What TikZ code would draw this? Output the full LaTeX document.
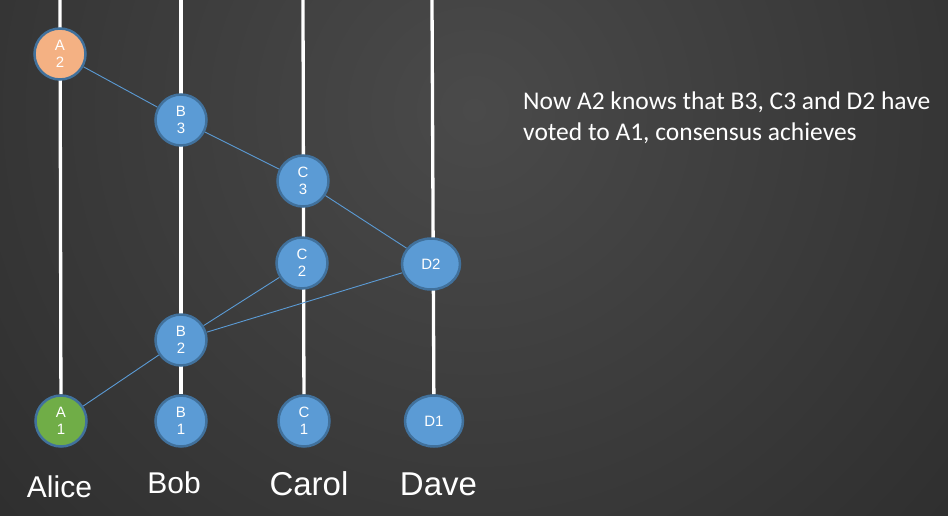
\documentclass[tikz,border=0pt]{standalone}
\usepackage{fontspec}
\setmainfont{Liberation Sans}
\newfontfamily\notefont{Carlito}
\usetikzlibrary{shapes.geometric}

\definecolor{voteblue}{HTML}{5B9BD5}
\definecolor{voterim}{HTML}{41719C}
\definecolor{voteorange}{HTML}{F4B183}
\definecolor{votegreen}{HTML}{70AD47}
\definecolor{bglight}{HTML}{4A4A4A}
\definecolor{bgdark}{HTML}{181818}

\pgfdeclarelayer{bg}
\pgfdeclarelayer{lines}
\pgfsetlayers{bg,lines,main}

\begin{document}
\begin{tikzpicture}[x=1pt,y=-1pt,
	vote/.style={circle,draw=voterim,line width=2.5pt,fill=voteblue,text=white,
		minimum size=51pt,inner sep=0pt,align=center,font=\fontsize{15}{17}\selectfont},
	dvote/.style={vote,ellipse,minimum width=58pt,minimum height=51pt},
	life/.style={white,line width=3.3pt},
	msg/.style={voteblue,line width=0.9pt},
	who/.style={anchor=base,text=white,font=\fontsize{30}{36}\selectfont}]
	
	\useasboundingbox (0,0) rectangle (948,515);
	\begin{pgfonlayer}{bg}
		\clip (0,0) rectangle (948,515);
		\shade[inner color=bglight,outer color=bgdark] (474,110) circle (1150);
	\end{pgfonlayer}
	
	% votes
	\node[vote,fill=voteorange] (A2) at (60,54)  {A\\2};
	\node[vote]                 (B3) at (181,120) {B\\3};
	\node[vote]                 (C3) at (303,181) {C\\3};
	\node[vote]                 (C2) at (302,263) {C\\2};
	\node[dvote]                (D2) at (431,264) {D2};
	\node[vote]                 (B2) at (181,340) {B\\2};
	
	\node[vote,fill=votegreen]  (A1) at (61,421)  {A\\1};
	\node[vote]                 (B1) at (181,421) {B\\1};
	\node[vote]                 (C1) at (304,421) {C\\1};
	\node[dvote]                (D1) at (434,421) {D1};
	
	\coordinate (topA) at (60,0);
	\coordinate (topB) at (181,0);
	\coordinate (topC) at (303,0);
	\coordinate (topD) at (432,0);
	
	\node[who] (alice) at (59.5,497) {Alice};
	\node[who] (bob)   at (174,493)  {Bob};
	\node[who,font=\fontsize{33}{38}\selectfont] (carol) at (309,495) {Carol};
	\node[who,font=\fontsize{33}{38}\selectfont] (dave)  at (438.5,495) {Dave};
	
	\node[anchor=base west,align=left,inner sep=0pt,text=white,
		font=\notefont\fontsize{25.5}{31}\selectfont] (note) at (523,140)
		{Now A2 knows that B3, C3 and D2 have\\voted to A1, consensus achieves};
	
	\begin{pgfonlayer}{lines}
		\draw[life] (topA) -- (A1);
		\draw[life] (topB) -- (B1);
		\draw[life] (topC) -- (C1);
		\draw[life] (topD) -- (D1);
		
		\path[msg] (A2) edge (B3);
		\path[msg] (B3) edge (C3);
		\path[msg] (C3) edge (D2);
		\path[msg] (C2) edge (B2);
		\path[msg] (D2) edge (B2);
		\path[msg] (B2) edge (A1);
	\end{pgfonlayer}
	
\end{tikzpicture}
\end{document}
